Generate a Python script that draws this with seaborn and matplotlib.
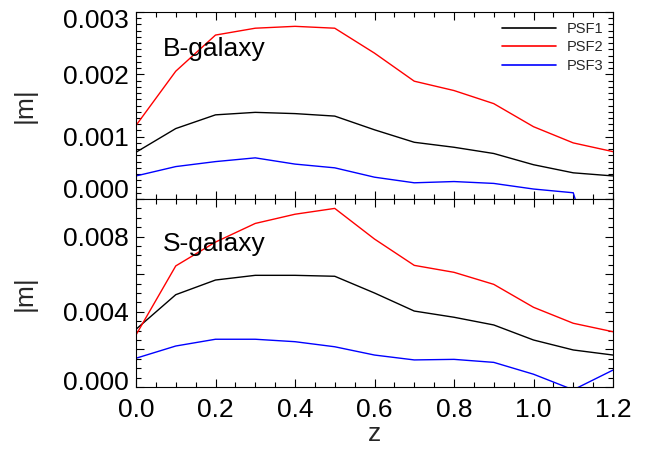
import numpy as np
import pandas as pd
import seaborn as sns
import matplotlib
matplotlib.use("Agg")
import matplotlib.pyplot as plt
from matplotlib.ticker import MultipleLocator, FixedLocator, FuncFormatter
from matplotlib.transforms import ScaledTranslation

# Redshift bins
z = [0.0, 0.1, 0.2, 0.3, 0.4, 0.5, 0.6, 0.7, 0.8, 0.9, 1.0, 1.1, 1.2]

# Multiplicative bias |m| for bright galaxies
b_psf1 = [0.00075, 0.00113, 0.00135, 0.00139, 0.00137, 0.00133, 0.00111,
          0.00091, 0.00083, 0.00073, 0.00055, 0.00042, 0.00037]
b_psf2 = [0.00118, 0.00205, 0.00263, 0.00274, 0.00277, 0.00274, 0.00234,
          0.00189, 0.00174, 0.00153, 0.00116, 0.00090, 0.00076]
b_psf3 = [0.00037, 0.00052, 0.00060, 0.00066, 0.00056, 0.00050, 0.00035,
          0.00026, 0.00028, 0.00025, 0.00016, 0.00010, -0.00200]

# Multiplicative bias |m| for small galaxies
s_psf1 = [0.00307, 0.00491, 0.00569, 0.00594, 0.00594, 0.00589, 0.00500,
          0.00404, 0.00371, 0.00330, 0.00250, 0.00197, 0.00170]
s_psf2 = [0.00277, 0.00644, 0.00771, 0.00870, 0.00919, 0.00950, 0.00787,
          0.00647, 0.00610, 0.00546, 0.00424, 0.00339, 0.00294]
s_psf3 = [0.00153, 0.00218, 0.00254, 0.00254, 0.00241, 0.00214, 0.00170,
          0.00144, 0.00147, 0.00131, 0.00068, -0.00015, 0.00090]

psf_names = ["PSF1", "PSF2", "PSF3"]
panel_names = ["B-galaxy", "S-galaxy"]
palette = {"PSF1": "black", "PSF2": "red", "PSF3": "blue"}


def long_table(series):
    frames = []
    for name, vals in zip(psf_names, series):
        frames.append(pd.DataFrame({"z": z, "m": vals, "psf": name}))
    return pd.concat(frames, ignore_index=True)


bright = long_table([b_psf1, b_psf2, b_psf3])
small = long_table([s_psf1, s_psf2, s_psf3])

sns.set_theme(style="ticks")
plt.rcParams["font.family"] = ["Liberation Sans", "DejaVu Sans"]
plt.rcParams["axes.linewidth"] = 0.8

fig = plt.figure(figsize=(6.45, 4.53), dpi=100)
W, H = 645.0, 453.0
x0, x1 = 136, 613
top_y0, mid_y, bot_y1 = 12, 199, 387
ax_top = fig.add_axes([x0 / W, 1 - mid_y / H, (x1 - x0) / W, (mid_y - top_y0) / H])
ax_bot = fig.add_axes([x0 / W, 1 - bot_y1 / H, (x1 - x0) / W, (bot_y1 - mid_y) / H],
                      sharex=ax_top)

sns.lineplot(data=bright, x="z", y="m", hue="psf", palette=palette,
             linewidth=1.0, ax=ax_top, legend=True)
sns.lineplot(data=small, x="z", y="m", hue="psf", palette=palette,
             linewidth=1.0, ax=ax_bot, legend=False)

fs = 19
for ax in (ax_top, ax_bot):
    ax.set_xlim(0.0, 1.2)
    ax.xaxis.set_major_locator(MultipleLocator(0.2))
    ax.xaxis.set_minor_locator(MultipleLocator(0.05))
    ax.tick_params(which="both", direction="in", top=True, right=True,
                   colors="black", width=0.8)
    ax.tick_params(which="major", length=6)
    ax.tick_params(which="minor", length=3.5)
    ax.tick_params(axis="y", labelsize=fs, pad=5)
    ax.tick_params(axis="x", labelsize=fs, pad=8)
    for sp in ax.spines.values():
        sp.set_color("black")
        sp.set_linewidth(0.8)
    ax.set_ylabel("|m|", fontsize=fs, labelpad=19)
    ax.set_xlabel("")

# upper panel
ax_top.set_ylim(0.0, 0.003)
ax_top.yaxis.set_major_locator(FixedLocator([0.0, 0.001, 0.002, 0.003]))
ax_top.yaxis.set_minor_locator(MultipleLocator(0.0001))
ax_top.yaxis.set_major_formatter(FuncFormatter(lambda v, p: f"{v:.3f}"))
ax_top.tick_params(axis="x", labelbottom=False)
ax_top.text(0.056, 0.80, panel_names[0], transform=ax_top.transAxes,
            fontsize=fs, color="black", va="center")

leg = ax_top.legend(loc="upper right", frameon=False, fontsize=10.5,
                    handlelength=3.7, handletextpad=0.7, labelspacing=0.3,
                    borderaxespad=0.38, borderpad=0.3)
for h in leg.get_lines():
    h.set_linewidth(1.2)

# lower panel
ax_bot.set_ylim(0.0, 0.010)
ax_bot.yaxis.set_major_locator(FixedLocator([0.0, 0.002, 0.004, 0.006, 0.008, 0.010]))
ax_bot.yaxis.set_minor_locator(MultipleLocator(0.0005))
ax_bot.yaxis.set_major_formatter(
    FuncFormatter(lambda v, p: f"{v:.3f}" if abs(round(v / 0.004) * 0.004 - v) < 1e-9 and v < 0.0095 else ""))
ax_bot.text(0.056, 0.76, panel_names[1], transform=ax_bot.transAxes,
            fontsize=fs, color="black", va="center")
ax_bot.set_xlabel("z", fontsize=fs, labelpad=0)
ax_bot.xaxis.set_major_formatter(FuncFormatter(lambda v, p: f"{v:.1f}"))

fig.canvas.draw()


def nudge(ax, value, dy_px):
    for tick in ax.yaxis.get_major_ticks():
        if abs(tick.get_loc() - value) < 1e-9:
            lab = tick.label1
            lab.set_transform(lab.get_transform() +
                              ScaledTranslation(0, dy_px / 100.0, fig.dpi_scale_trans))


nudge(ax_top, 0.003, -7)
nudge(ax_top, 0.0, 10)
nudge(ax_bot, 0.0, 6)

fig.savefig("out.png", dpi=100)
